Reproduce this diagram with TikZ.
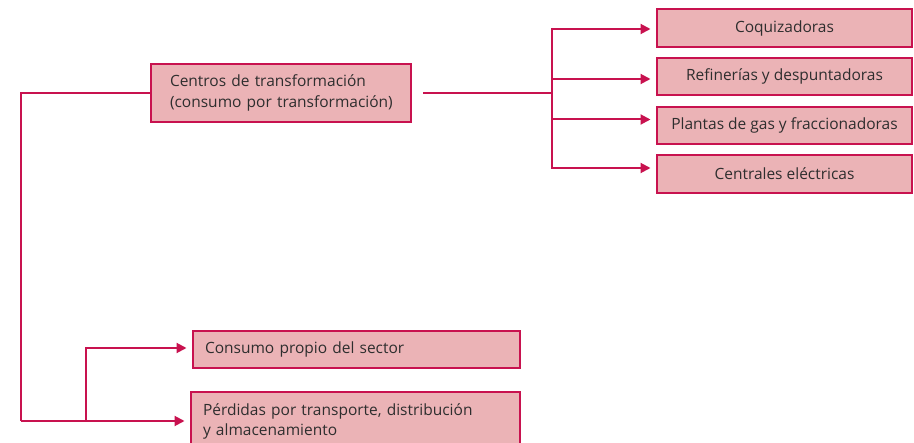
\documentclass[tikz,border=0pt]{standalone}
\usepackage{fontspec}
\setmainfont{Open Sans}
\usetikzlibrary{arrows.meta}
\definecolor{boxred}{HTML}{C8124F}
\definecolor{boxfill}{HTML}{EBB3B6}
\definecolor{txt}{HTML}{2E2E2E}
\begin{document}
\begin{tikzpicture}[x=1pt,y=-1pt,
  box/.style={draw=boxred, fill=boxfill, line width=2pt, anchor=north west,
    inner sep=0pt, font=\fontsize{15.5}{20.5}\selectfont, text=txt},
  conn/.style={draw=boxred, line width=2pt},
  arr/.style={conn, -{Triangle[length=10pt,width=10pt]}, shorten >=5.5pt}]
\useasboundingbox (0,0) rectangle (914,443);
% main box
\node[box, minimum width=260pt, minimum height=58pt, text width=222pt,
  inner xsep=19pt, align=left] (cen) at (150,63)
  {\mbox{Centros de transformación}\\\mbox{(consumo por transformación)}};
% right boxes
\node[box, minimum width=255pt, minimum height=38pt] (coq) at (656,8) {Coquizadoras};
\node[box, minimum width=255pt, minimum height=37pt] (ref) at (656,57) {Refinerías y despuntadoras};
\node[box, minimum width=255pt, minimum height=37pt] (pla) at (656,106) {Plantas de gas y fraccionadoras};
\node[box, minimum width=255pt, minimum height=38pt] (cel) at (656,154) {Centrales eléctricas};
% bottom boxes
\node[box, minimum width=327pt, minimum height=37pt, text width=303pt,
  inner xsep=12pt, align=left] (con) at (192,330) {Consumo propio del sector};
\node[box, minimum width=329pt, minimum height=59pt, text width=305pt,
  inner xsep=12pt, align=left] (per) at (190,391)
  {\mbox{Pérdidas por transporte, distribución}\\y almacenamiento};
% junction coordinates
\coordinate (jr) at (552,93);
\coordinate (jl) at (21,93);
\coordinate (jb) at (21,421);
\coordinate (jm) at (86,421);
% right connectors
\draw[conn, shorten <=11pt] (cen.east) -- (jr);
\draw[conn] (552,28) -- (552,167);
\draw[arr] (jr) |- ([yshift=-1pt]coq.west);
\draw[arr] (jr) |- ([yshift=-2.5pt]ref.west);
\draw[arr] (jr) |- ([yshift=6pt]pla.west);
\draw[arr] (jr) |- ([yshift=6pt]cel.west);
% left connectors
\draw[conn] (cen.west) -- (jl) -- (jb);
\draw[arr] (jb) -- (jb -| per.west);
\draw[arr] (jm) |- ([yshift=1.5pt]con.west);
\end{tikzpicture}
\end{document}
